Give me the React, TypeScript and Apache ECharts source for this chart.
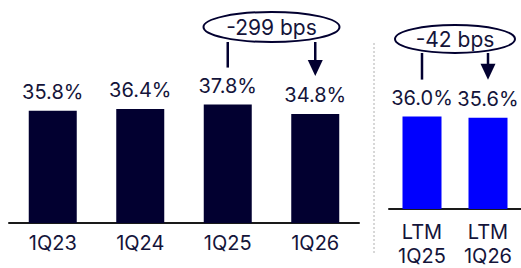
import React, { useEffect, useRef } from "react";
import * as echarts from "echarts";

const quarterCats = ["1Q23", "1Q24", "1Q25", "1Q26"];
const quarterValues = [35.8, 36.4, 37.8, 34.8];
const ltmCats = ["LTM\n1Q25", "LTM\n1Q26"];
const ltmValues = [36.0, 35.6];
const quarterChange = "-299 bps";
const ltmChange = "-42 bps";

const NAVY = "#020030";
const TEXT = "#14143a";
const BLUE = "#0000ff";
const FONT = "Inter";

export default function App() {
  const ref = useRef<HTMLDivElement>(null);
  useEffect(() => {
    if (!ref.current) return;
    const chart = echarts.init(ref.current, undefined, { renderer: "svg" });
    const labelStyle = {
      show: true,
      position: "top" as const,
      distance: 9,
      color: TEXT,
      fontFamily: FONT,
      fontSize: 20,
      formatter: (p: any) => p.value.toFixed(1) + "%",
    };
    const axisLabel = { color: TEXT, fontFamily: FONT, fontSize: 20, margin: 8, lineHeight: 24 };
    const axisLabelLtm = { color: TEXT, fontFamily: FONT, fontSize: 20, margin: 11, lineHeight: 24 };
    const axisLine = { show: true, lineStyle: { color: "#1a1a1a", width: 2 } };
    chart.setOption({
      animation: false,
      grid: [
        { left: 9, width: 350, top: 35, bottom: 45 },
        { left: 389, width: 137, top: 55, bottom: 45 },
      ],
      xAxis: [
        { type: "category", gridIndex: 0, data: quarterCats, axisTick: { show: false }, axisLine, axisLabel },
        { type: "category", gridIndex: 1, data: ltmCats, axisTick: { show: false }, axisLine, axisLabel: axisLabelLtm },
      ],
      yAxis: [
        { type: "value", gridIndex: 0, min: 0, max: 60, show: false },
        { type: "value", gridIndex: 1, min: 0, max: 60, show: false },
      ],
      series: [
        {
          type: "bar", xAxisIndex: 0, yAxisIndex: 0, data: quarterValues, barWidth: 48,
          itemStyle: { color: NAVY }, label: labelStyle,
        },
        {
          type: "bar", xAxisIndex: 1, yAxisIndex: 1, data: ltmValues, barWidth: 39,
          itemStyle: { color: BLUE }, label: labelStyle,
        },
      ],
    });

    const px = (grid: number, cat: number, val: number) =>
      chart.convertToPixel({ xAxisIndex: grid, yAxisIndex: grid }, [cat, val]) as number[];

    const annot = (grid: number, a: number, b: number, vals: number[], text: string, cy: number, rx: number, ry: number) => {
      const pa = px(grid, a, vals[a]);
      const pb = px(grid, b, vals[b]);
      const cx = (pa[0] + pb[0]) / 2;
      const lineStyle = { stroke: NAVY, lineWidth: 2.5 };
      const tipY = pb[1] - 38;
      return [
        { type: "ellipse", shape: { cx, cy, rx, ry }, style: { fill: "#fff", stroke: NAVY, lineWidth: 2 }, z: 10 },
        {
          type: "text", x: cx, y: cy, z: 11,
          style: { text, fill: TEXT, font: `21px ${FONT}`, align: "center", verticalAlign: "middle" },
        },
        { type: "line", shape: { x1: pa[0], y1: cy + ry, x2: pa[0], y2: pa[1] - 37 }, style: lineStyle, z: 9 },
        { type: "line", shape: { x1: pb[0], y1: cy + ry, x2: pb[0], y2: tipY - 10 }, style: lineStyle, z: 9 },
        {
          type: "polygon", z: 9,
          shape: { points: [[pb[0] - 7.5, tipY - 16], [pb[0] + 7.5, tipY - 16], [pb[0], tipY]] },
          style: { fill: NAVY },
        },
      ];
    };

    chart.setOption({
      graphic: [
        {
          type: "line",
          shape: { x1: 374, y1: 43, x2: 374, y2: 254 },
          style: { stroke: "#b0b0b0", lineWidth: 1, lineDash: [2, 2] },
        },
        ...annot(0, 2, 3, quarterValues, quarterChange, 27, 68, 15),
        ...annot(1, 0, 1, ltmValues, ltmChange, 39, 60, 14),
      ],
    });
    return () => chart.dispose();
  }, []);
  return <div ref={ref} style={{ width: 521, height: 268, position: "absolute", left: 0, top: 0 }} />;
}
